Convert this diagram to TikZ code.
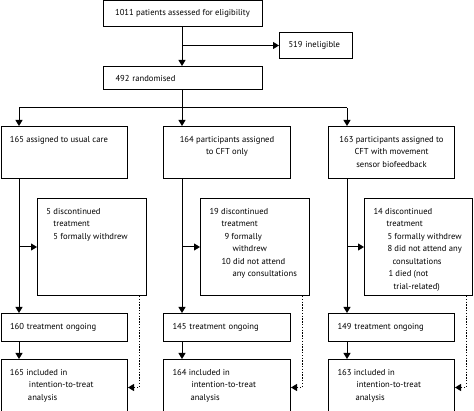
\documentclass[tikz,border=0pt]{standalone}
\usepackage{fontspec}
\setmainfont{PT Sans}
\usetikzlibrary{arrows.meta}

\newcommand{\flowtext}[3]{\parbox[t][#2][t]{#1}{\raggedright\leftskip=9pt\rule{0pt}{16pt}#3}}
\newcommand{\flowtextc}[3]{\parbox[t][#2][t]{#1}{\centering\rule{0pt}{16pt}#3}}

\begin{document}
\begin{tikzpicture}[x=1pt, y=1pt,
    font=\fontsize{8.6}{12.5}\selectfont,
    box/.style={draw, line width=1pt, inner sep=0pt, anchor=north west},
    line/.style={box, minimum height=28pt, text width=#1, align=left, inner xsep=9pt},
    arr/.style={line width=1pt, -{Triangle[length=6pt,width=7pt]}},
    dots/.style={arr, dash pattern=on 1.4pt off 1.4pt}]
    \useasboundingbox (0,0) rectangle (474,-411);
    \coordinate (colA) at (19,0);
    \coordinate (colB) at (182,0);
    \coordinate (colC) at (347,0);
    \coordinate (split) at (182,-108);

    % enrolment
    \node[box, minimum width=159pt, minimum height=25.5pt, anchor=north] (elig) at (182.5,-0.5) {1011 patients assessed for eligibility};
    \node[line=55pt, minimum height=26pt] (inel) at (279,-32) {519 ineligible};
    \node[line=135pt, minimum height=23pt, inner xsep=12pt] (rand) at (103,-66) {492 randomised};

    % allocation
    \node[box] (grpA) at (0.5,-126) {\flowtext{126.5pt}{52pt}{165 assigned to usual care}};
    \node[box] (grpB) at (163,-126) {\flowtextc{127pt}{52pt}{164 participants assigned\\to CFT only}};
    \node[box] (grpC) at (328,-126) {\flowtextc{126pt}{52pt}{163 participants assigned to\\CFT with movement\\sensor biofeedback}};

    % discontinued
    \node[box] (disA) at (37,-198) {\flowtext{109pt}{97pt}{5 discontinued\\
        \hspace*{7pt}treatment\\
        \hspace*{7pt}5 formally withdrew}};
    \node[box] (disB) at (200,-198) {\flowtext{109pt}{97pt}{19 discontinued\\
        \hspace*{12pt}treatment\\
        \hspace*{15pt}9 formally\\
        \hspace*{23pt}withdrew\\
        \hspace*{12pt}10 did not attend\\
        \hspace*{23pt}any consultations}};
    \node[box] (disC) at (364,-198) {\flowtext{108pt}{97pt}{14 discontinued\\
        \hspace*{13pt}treatment\\
        \hspace*{14pt}5 formally withdrew\\
        \hspace*{14pt}8 did not attend any\\
        \hspace*{19pt}consultations\\
        \hspace*{15pt}1 died (not\\
        \hspace*{20pt}trial-related)}};

    % ongoing
    \node[line=108.5pt] (ongA) at (0.5,-313) {160 treatment ongoing};
    \node[line=109pt] (ongB) at (163,-313) {145 treatment ongoing};
    \node[line=108pt] (ongC) at (328,-313) {149 treatment ongoing};

    % analysis
    \node[box] (ittA) at (0.5,-359) {\flowtext{126.5pt}{56pt}{165 included in\\
        \hspace*{19pt}intention-to-treat\\
        \hspace*{18pt}analysis}};
    \node[box] (ittB) at (163,-359) {\flowtext{127pt}{56pt}{164 included in\\
        \hspace*{19pt}intention-to-treat\\
        \hspace*{18pt}analysis}};
    \node[box] (ittC) at (328,-359) {\flowtext{126pt}{56pt}{163 included in\\
        \hspace*{19pt}intention-to-treat\\
        \hspace*{18pt}analysis}};

    % connectors
    \draw[arr] (elig.south -| colB) -- (rand.north -| colB);
    \draw[arr] (inel.west -| colB) -- (inel.west);
    \draw[line width=1pt] (rand.south -| colB) -- (split);
    \draw[line width=1pt] (split -| colA) -- (split -| colC);
    \draw[arr] (split -| colA) -- (grpA.north -| colA);
    \draw[arr] (split) -- (grpB.north -| colB);
    \draw[arr] (split -| colC) -- (grpC.north -| colC);

    \draw[arr] (grpA.south -| colA) -- (ongA.north -| colA);
    \draw[arr] (grpB.south -| colB) -- (ongB.north -| colB);
    \draw[arr] (grpC.south -| colC) -- (ongC.north -| colC);
    \draw[arr] (disA.west -| colA) -- (disA.west);
    \draw[arr] (disB.west -| colB) -- (disB.west);
    \draw[arr] (disC.west -| colC) -- (disC.west);
    \draw[arr] (ongA.south -| colA) -- (ittA.north -| colA);
    \draw[arr] (ongB.south -| colB) -- (ittB.north -| colB);
    \draw[arr] (ongC.south -| colC) -- (ittC.north -| colC);

    \draw[dots] ([xshift=-8pt]disA.south east) |- (ittA.east);
    \draw[dots] ([xshift=-8pt]disB.south east) |- (ittB.east);
    \draw[dots] ([xshift=-7pt]disC.south east) |- (ittC.east);
\end{tikzpicture}
\end{document}
